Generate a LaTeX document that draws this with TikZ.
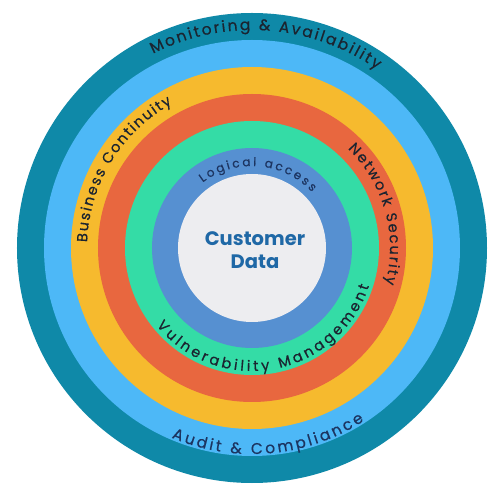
\documentclass[tikz,border=0pt]{standalone}
\usepackage{fontspec}
\setmainfont{Poppins}
\newfontfamily\labelfont[FakeBold=0.5]{Poppins}
\usetikzlibrary{decorations.text}
\definecolor{ringTeal}{HTML}{0F89A8}
\definecolor{ringSky}{HTML}{4DB8F7}
\definecolor{ringYellow}{HTML}{F6BA2E}
\definecolor{ringOrange}{HTML}{E8673F}
\definecolor{ringGreen}{HTML}{34DCA6}
\definecolor{ringBlue}{HTML}{5690D1}
\definecolor{coreWhite}{HTML}{EDEDF0}
\definecolor{labelDark}{HTML}{1B2430}
\definecolor{labelNavy}{HTML}{1C3460}
\definecolor{coreText}{HTML}{1F68A6}
\newcommand{\fsz}[1]{\fontsize{#1}{#1}\selectfont}
\tikzset{
  ring/.style={circle, draw=none, inner sep=0pt, minimum size=#1},
  arclabel/.style n args={3}{decorate, decoration={text along path,
      text={|\labelfont\fsz{#2}|#1}, text align=fit to path, text color=#3}}
}
\begin{document}
\begin{tikzpicture}[x=1pt,y=1pt]
\useasboundingbox (-252,-239) rectangle (238,248);
\fill[white] (-252,-239) rectangle (238,248);
\node[ring=470pt, fill=ringTeal] (teal) at (0,0) {};
\node[ring=416pt, fill=ringSky] (sky) at (0,0) {};
\node[ring=362pt, fill=ringYellow] (yellow) at (0,0) {};
\node[ring=308pt, fill=ringOrange] (orange) at (0,0) {};
\node[ring=254pt, fill=ringGreen] (green) at (0,0) {};
\node[ring=200pt, fill=ringBlue] (blue) at (0,0) {};
\node[ring=148pt, fill=coreWhite] (core) at (0,0) {};
\node[font=\bfseries\fsz{19.5}, text=coreText, align=center, inner sep=0pt] (cd) at (3,-2) {Customer\\[3pt]Data};
\path[arclabel={Monitoring {\&} Availability}{15.5}{labelDark}] (117:218) arc[start angle=117, end angle=55, radius=218];
\path[arclabel={Business Continuity}{14.5}{labelDark}] (178:165) arc[start angle=178, end angle=119, radius=165];
\path[arclabel={Network Security}{14.5}{labelDark}] (46:138) arc[start angle=46, end angle=-15, radius=138];
\path[arclabel={Logical access}{12}{labelNavy}] (127:82) arc[start angle=127, end angle=43, radius=82];
\path[arclabel={Vulnerability Management}{14.5}{labelDark}] (219:123) arc[start angle=219, end angle=342, radius=123];
\path[arclabel={Audit {\&} Compliance}{15.5}{labelNavy}] (247:206) arc[start angle=247, end angle=303, radius=206];
\end{tikzpicture}
\end{document}
